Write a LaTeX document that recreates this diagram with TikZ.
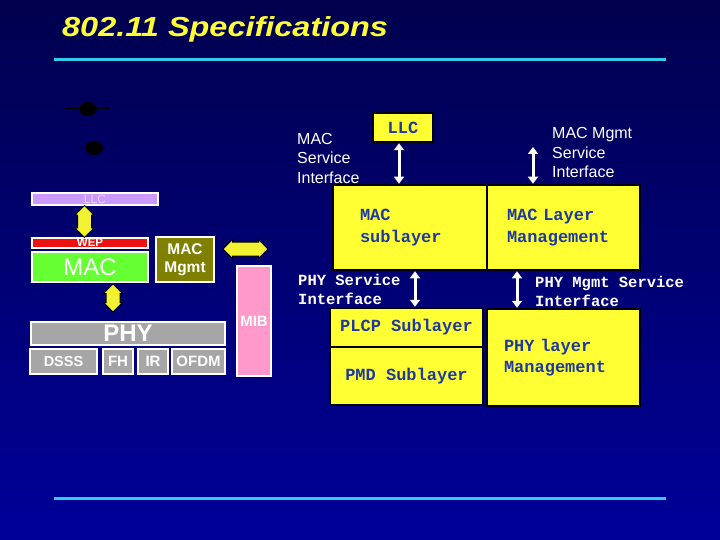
\documentclass[tikz,border=0pt]{standalone}
\usepackage{fontspec}
\setmainfont{Liberation Sans}
\setsansfont{Liberation Sans}
\setmonofont{Liberation Mono}
\usetikzlibrary{arrows.meta,positioning,calc,shapes.arrows}
\definecolor{bgtop}{HTML}{00004E}
\definecolor{bgbot}{HTML}{000099}
\definecolor{ttl}{HTML}{FFFF33}
\definecolor{cyanl}{HTML}{33CCEE}
\definecolor{llcp}{HTML}{CC99FF}
\definecolor{llct}{HTML}{E6D6FF}
\definecolor{wepr}{HTML}{EE1111}
\definecolor{macg}{HTML}{66FF33}
\definecolor{mgmto}{HTML}{808000}
\definecolor{phyg}{HTML}{A6A6A6}
\definecolor{mibp}{HTML}{FF99CC}
\definecolor{sblock}{HTML}{FFFF33}
\definecolor{stext}{HTML}{1F3A9E}
\definecolor{farrow}{HTML}{F2F233}
\tikzset{
  % white-framed blocks of the left stack
  lay/.style   = {rectangle, draw=white, line width=1.5pt, text=white, inner sep=0pt, font=\sffamily\bfseries},
  % yellow sublayer blocks with black frame
  sub/.style   = {rectangle, draw=black, line width=2.5pt, fill=sblock, text=stext, inner sep=0pt,
                  font=\ttfamily\bfseries\fontsize{17}{21.5}\selectfont},
  fat/.style   = {double arrow, draw=black, line width=1pt, fill=farrow, inner xsep=0pt, inner ysep=6.5pt,
                  double arrow head extend=2.5pt},
  wire/.style  = {white, line width=3pt, {Triangle[width=10pt,length=7pt]}-{Triangle[width=10pt,length=7pt]}},
  note/.style  = {text=white, align=left, anchor=west, inner sep=0pt},
  cyanline/.style = {cyanl, line width=3pt},
}
\begin{document}
\begin{tikzpicture}[x=1pt,y=-1pt]
\shade[top color=bgtop, bottom color=bgbot] (0,0) rectangle (720,540);
\useasboundingbox (0,0) rectangle (720,540);
\node[anchor=base west, inner sep=0pt, text=ttl, font=\bfseries\itshape\fontsize{27.5}{32}\selectfont] (title) at (62,36.5)
  {\scalebox{1.18}[1]{802.11 Specifications}};
\draw[cyanline] (54,60) -- (666,60);
\draw[cyanline] (54,498) -- (666,498);
% shadows of two arrows
\fill[black] (88,109) ellipse (9 and 7);
\draw[black, line width=1pt] (66,109) -- (110,109);
\fill[black] (94,148) ellipse (9 and 7);
\draw[black, line width=1pt] (74,148) -- (119,148);
% left stack
\node[lay, fill=llcp, minimum width=126pt, minimum height=12pt, text=llct, font=\fontsize{12}{12}\selectfont] (llc) at (95,199) {LLC};
\node[lay, fill=wepr, minimum width=116pt, minimum height=10pt, font=\bfseries\fontsize{11.5}{11}\selectfont] (wep) at (90,243) {WEP};
\node[lay, fill=macg, minimum width=116pt, minimum height=30pt, font=\fontsize{24}{24}\selectfont] (mac) at (90,267) {MAC};
\node[lay, fill=mgmto, minimum width=58pt, minimum height=45pt, align=center, font=\bfseries\fontsize{15.5}{18}\selectfont] (mgmt) at (185,259.5) {MAC\\Mgmt};
\node[lay, fill=phyg, minimum width=194pt, minimum height=23pt, font=\bfseries\fontsize{24}{24}\selectfont] (phy) at (128,333.5) {PHY};
\node[lay, fill=phyg, minimum width=67pt, minimum height=25pt, font=\bfseries\fontsize{14.5}{15}\selectfont] (dsss) at (63.5,361.5) {DSSS};
\node[lay, fill=phyg, minimum width=30pt, minimum height=25pt, font=\bfseries\fontsize{15}{15}\selectfont] (fh) at (118,361.5) {FH};
\node[lay, fill=phyg, minimum width=30pt, minimum height=25pt, font=\bfseries\fontsize{15}{15}\selectfont] (ir) at (153,361.5) {IR};
\node[lay, fill=phyg, minimum width=53pt, minimum height=25pt, font=\bfseries\fontsize{15}{15}\selectfont] (ofdm) at (198.5,361.5) {OFDM};
\node[lay, fill=mibp, minimum width=34pt, minimum height=110pt, font=\bfseries\fontsize{15}{16}\selectfont] (mib) at (254,321) {MIB};
\node[fat, rotate=90, minimum height=32pt] (llcwep) at ($(llc.south)!0.5!(wep.north)+(-8,0)$) {};
\node[fat, minimum height=45pt] (mgmtmib) at (245.5,249) {};
\node[fat, rotate=90, minimum height=28pt] (macphy) at ($(mac.south)!0.5!(phy.north)+(4,-4)$) {};
% right stack
\node[sub, minimum width=60pt, minimum height=29pt] (llc2) at (403,127.5) {LLC};
\node[sub, minimum height=85pt, text width=100pt, inner xsep=27pt, align=left] (macsub) at (410,227.5) {MAC\\sublayer};
\node[sub, minimum height=85pt, text width=113pt, inner xsep=20pt, align=left] (macmgt) at (563.5,227.5) {MAC Layer\\Management};
\node[sub, minimum width=153pt, minimum height=39pt] (plcp) at (406.5,327.5) {PLCP Sublayer};
\node[sub, minimum width=153pt, minimum height=58pt] (pmd) at (406.5,376) {PMD Sublayer};
\node[sub, minimum height=97pt, text width=119pt, inner xsep=17pt, align=left] (phymgt) at (563.5,357.5) {PHY layer\\Management};
\draw[wire] ([xshift=-4pt]llc2.south) -- ([xshift=-4pt]llc2.south |- macsub.north);
\draw[wire] ([xshift=5pt]macsub.south) -- ([xshift=5pt]macsub.south |- plcp.north);
\coordinate (mgmttop) at (533,147);
\draw[wire] (mgmttop) -- (mgmttop |- macmgt.north);
\draw[wire] ([xshift=-46.5pt]macmgt.south) -- ([xshift=-46.5pt]macmgt.south |- phymgt.north);
\node[note, font=\fontsize{16}{19.5}\selectfont] (macsi) at (297,158) {MAC\\Service\\Interface};
\node[note, font=\ttfamily\bfseries\fontsize{15.5}{19}\selectfont] (physi) at (298,289.5) {PHY Service\\Interface};
\node[note, font=\fontsize{16}{19.5}\selectfont] (mgmtsi) at (552,152.5) {MAC Mgmt\\Service\\Interface};
\node[note, font=\ttfamily\bfseries\fontsize{15.5}{19}\selectfont] (phymsi) at (535,291.5) {PHY Mgmt Service\\Interface};
\end{tikzpicture}
\end{document}
